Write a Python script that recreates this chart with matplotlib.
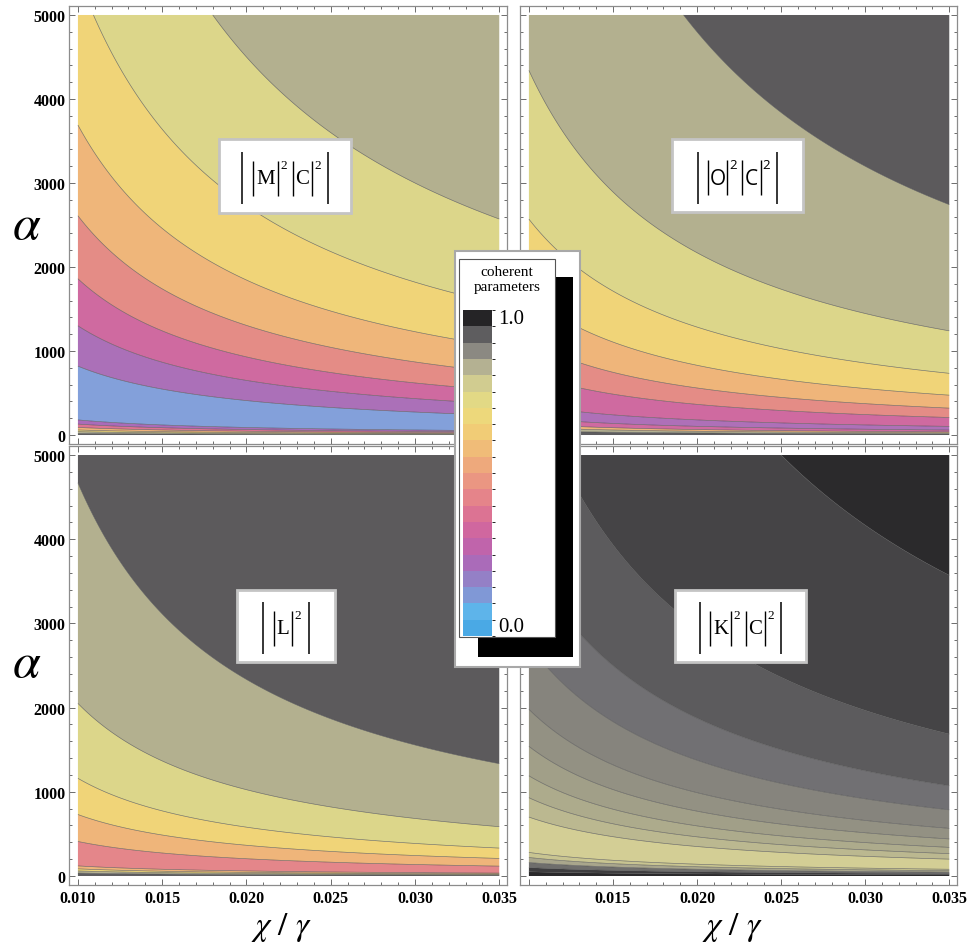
import numpy as np
import matplotlib
matplotlib.use("Agg")
import matplotlib.pyplot as plt
from matplotlib.colors import ListedColormap, BoundaryNorm
from matplotlib.cm import ScalarMappable
from matplotlib.patches import Rectangle
from matplotlib.ticker import MultipleLocator, FixedLocator, FixedFormatter

plt.rcParams['mathtext.fontset'] = 'stix'

W, H = 972, 945

# contour bounds in u = alpha * (chi/gamma), ascending, with band colours
mc_bounds = [0, 0.2, 0.4, 0.6, 0.9, 1.3, 1.8, 8.2, 13.0, 18.6, 26.1, 36.9, 54.6, 90, 200]
mc_colors = ['#5e5d5f', '#b4b192', '#eed679', '#efb27a', '#dc7393', '#aa6bb9', '#83a0da',
             '#ab70b8', '#cf6aa0', '#e48c86', '#efb67a', '#f0d478', '#dcd68a', '#b3b08f']

oc_bounds = [0, 0.5, 0.9, 1.3, 2.07, 3.6, 7.3, 11.2, 16.6, 25.7, 43.4, 96, 200]
oc_colors = ['#5e5d5f', '#b4b192', '#efb57a', '#cf6aa0', '#ae70b8', '#cf6aa0', '#e48c86',
             '#efb57a', '#f0d478', '#dcd68a', '#b3b08f', '#5c5a5c']

l_bounds = [0, 0.35, 0.6, 0.85, 1.2, 4.1, 7.3, 11.6, 20.5, 46.7, 200]
l_colors = ['#5e5d5f', '#b4b192', '#eed679', '#efb57a', '#e4868a', '#efb57a', '#f0d478',
            '#dcd68a', '#b3b08f', '#5c5a5c']

kc_bounds = [0, 0.5, 1.0, 1.6, 2.2, 2.8, 7.0, 9.3, 11.9, 15.4, 19.8, 27.5, 37.5, 59, 125, 200]
kc_colors = ['#2a292b', '#3e3d3f', '#6f6e6c', '#a9a68c', '#c8c491', '#d3ce95', '#bbb890',
             '#adab8c', '#a19f88', '#939183', '#86847d', '#717073', '#5c5b5d', '#454446', '#2b2a2c']

legend_colors = ['#4aa9e5', '#5eb4ea', '#8098d6', '#9480c6', '#aa6bb9', '#c064ab', '#d0679f',
                 '#dc7393', '#e5848a', '#ea9682', '#eea97c', '#f0bc78', '#f1cc76', '#edd87b',
                 '#e2d985', '#d1cc90', '#b4b192', '#8b8982', '#5e5d5f', '#252426']

x_ticks = [0.010, 0.015, 0.020, 0.025, 0.030, 0.035]
x_labels = ['0.010', '0.015', '0.020', '0.025', '0.030', '0.035']
y_ticks = [0, 1000, 2000, 3000, 4000, 5000]

panels = [
    # bounds, colours, letters in label, label font, frame (px), x labels, y labels, label box (px)
    (mc_bounds, mc_colors, ['M', 'C'], 'Liberation Serif', (69, 7, 507, 445), False, True, (219, 140, 351, 214)),
    (oc_bounds, oc_colors, ['O', 'C'], 'Open Sans', (520, 7, 957, 445), False, False, (672, 140, 803, 213)),
    (l_bounds, l_colors, ['L'], 'Liberation Serif', (69, 447, 507, 886), True, True, (237, 591, 335, 663)),
    (kc_bounds, kc_colors, ['K', 'C'], 'Liberation Serif', (520, 447, 957, 886), True, False, (675, 591, 806, 663)),
]

half_width = {'M': 12.8, 'C': 9.2, 'L': 9.2, 'K': 10.5, 'O': 9.5}

fig = plt.figure(figsize=(W / 100, H / 100), dpi=100)
fig.patch.set_facecolor('white')

xs = np.linspace(0.010, 0.035, 300)
alphas = np.linspace(0, 5000, 1500)
X, A = np.meshgrid(xs, alphas)
U = X * A

tick_font = {'family': 'Liberation Serif', 'weight': 'bold', 'size': 11.5}

for i, (bounds, colors, letters, lfont, frame, show_x, show_y, box) in enumerate(panels):
    x0, y0, x1, y1 = frame
    ax = fig.add_axes([x0 / W, 1 - y1 / H, (x1 - x0) / W, (y1 - y0) / H])
    ax.contourf(X, A, U, levels=bounds, colors=colors, antialiased=True)
    ax.contour(X, A, U, levels=bounds[1:-1], colors='#4d4d4d', linewidths=0.45, alpha=0.8)
    ax.set_xlim(0.00947, 0.03546)
    ax.set_ylim(-107, 5107)
    for sp in ax.spines.values():
        sp.set_color('#8c8c8c')
        sp.set_linewidth(0.9)
    ax.xaxis.set_major_locator(FixedLocator(x_ticks))
    ax.xaxis.set_minor_locator(MultipleLocator(0.001))
    ax.yaxis.set_major_locator(FixedLocator(y_ticks))
    ax.yaxis.set_minor_locator(MultipleLocator(200))
    labels = list(x_labels)
    if i == 3:
        labels[0] = ''
    ax.xaxis.set_major_formatter(FixedFormatter(labels))
    ax.tick_params(which='both', direction='in', top=True, right=True, color='#555555', width=0.6)
    ax.tick_params(which='major', length=4)
    ax.tick_params(which='minor', length=2)
    ax.tick_params(axis='x', pad=3.5, labelbottom=show_x)
    ax.tick_params(axis='y', pad=2.5, labelleft=show_y)
    for t in ax.get_xticklabels() + ax.get_yticklabels():
        t.set_fontproperties(tick_font)

# overlay in pixel coordinates for boxes, legend and axis titles
ov = fig.add_axes([0, 0, 1, 1])
ov.set_xlim(0, W)
ov.set_ylim(H, 0)
ov.axis('off')
ov.set_zorder(5)


def draw_label(cx, cy, letters, family):
    # layout of ||X|^2 |Y|^2| with tall bars, measured left to right
    items = [('outer', 0.0)]
    x = 10.4
    for ch in letters:
        hw = half_width[ch]
        items.append(('inner', x))
        x += hw
        items.append((ch, x))
        x += hw
        items.append(('inner', x))
        x += 5.7
        items.append(('sup', x))
        x += 9.3
    x += 1.3
    items.append(('outer', x))
    shift = cx - x / 2
    for kind, px in items:
        px += shift
        if kind == 'outer':
            ov.plot([px, px], [cy - 24, cy + 28], color='black', lw=1.1, solid_capstyle='butt')
        elif kind == 'inner':
            ov.plot([px, px], [cy - 15.5, cy + 19.5], color='black', lw=1.0, solid_capstyle='butt')
        elif kind == 'sup':
            ov.text(px, cy - 11, '2', ha='center', va='center', fontsize=9.5, family=family)
        else:
            ov.text(px, cy + 3, kind, ha='center', va='center', fontsize=15, family=family)


for bounds, colors, letters, lfont, frame, show_x, show_y, box in panels:
    bx0, by0, bx1, by1 = box
    ov.add_patch(Rectangle((bx0, by0), bx1 - bx0, by1 - by0, facecolor='white',
                           edgecolor='#c4c4c4', linewidth=2.0))
    draw_label((bx0 + bx1) / 2, (by0 + by1) / 2, letters, lfont)

for ya in (225, 663):
    ov.text(27, ya, r'$\alpha$', ha='center', va='center', fontsize=36)
for xc in (281, 732):
    ov.text(xc, 927, r'$\chi\ /\ \gamma$', ha='center', va='center', fontsize=24)

# legend
ov.add_patch(Rectangle((455, 252), 125, 416, facecolor='white', edgecolor='#a8a8a8', linewidth=1.5))
ov.add_patch(Rectangle((478, 278), 95, 380, facecolor='black', edgecolor='none'))
ov.add_patch(Rectangle((459, 260), 96, 378, facecolor='white', edgecolor='#555555', linewidth=0.8))
ov.text(507, 272, 'coherent', ha='center', va='center', fontsize=11, family='Liberation Serif')
ov.text(507, 287, 'parameters', ha='center', va='center', fontsize=11, family='Liberation Serif')
ov.text(498, 320, '1.0', ha='left', va='center', fontsize=15, family='Liberation Serif')
ov.text(498, 628, '0.0', ha='left', va='center', fontsize=15, family='Liberation Serif')

cax = fig.add_axes([463 / W, 1 - 637 / H, 29 / W, 326 / H])
cax.set_zorder(6)
levels = np.linspace(0, 1, len(legend_colors) + 1)
sm = ScalarMappable(norm=BoundaryNorm(levels, len(legend_colors)), cmap=ListedColormap(legend_colors))
cb = fig.colorbar(sm, cax=cax)
cb.outline.set_visible(False)
cb.set_ticks([])

fig.savefig('out.png', dpi=100)
